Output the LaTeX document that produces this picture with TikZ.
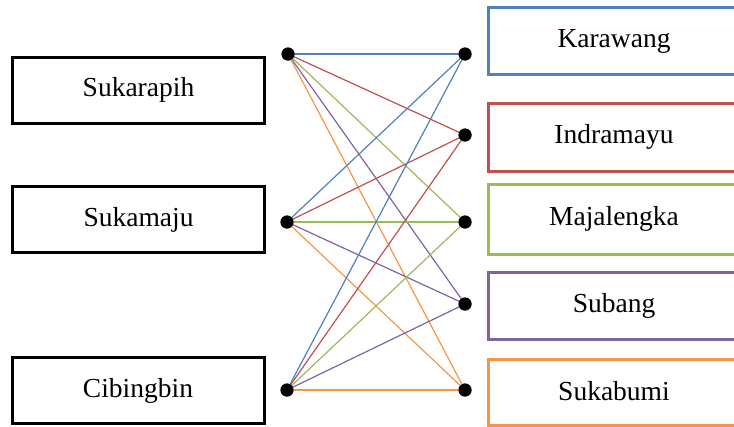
\documentclass[tikz,border=0pt]{standalone}
\usepackage{fontspec}
\setmainfont{Liberation Serif}
\definecolor{cblue}{RGB}{79,129,189}
\definecolor{cred}{RGB}{192,80,77}
\definecolor{cgreen}{RGB}{155,187,89}
\definecolor{cpurple}{RGB}{128,100,162}
\definecolor{corange}{RGB}{247,150,70}
\begin{document}
\begin{tikzpicture}[x=1pt,y=-1pt,
  box/.style={draw, line width=3pt, minimum height=66pt, inner sep=0pt, font=\fontsize{27.5}{31}\selectfont},
  dot/.style={circle, fill=black, inner sep=0pt, minimum size=13pt},
  link/.style={line width=1.2pt}]
\useasboundingbox (0,0) rectangle (734,426);
\begin{scope}
\clip (0,0) rectangle (734,426);
% left boxes
\node[box, minimum width=252pt] (sr) at (138.5,90) {\raisebox{2pt}{Sukarapih}};
\node[box, minimum width=252pt] (sm) at (138.5,219.5) {\raisebox{2pt}{Sukamaju}};
\node[box, minimum width=252pt] (cb) at (138,390.5) {\raisebox{2pt}{Cibingbin}};
% right boxes
\node[box, draw=cblue, minimum width=252pt, minimum height=67pt] (kw) at (614,41) {\raisebox{2pt}{Karawang}};
\node[box, draw=cred, minimum width=252pt, minimum height=68pt] (im) at (614,137) {\raisebox{2pt}{Indramayu}};
\node[box, draw=cgreen, minimum width=252pt, minimum height=70pt] (mj) at (614,219) {\raisebox{2pt}{Majalengka}};
\node[box, draw=cpurple, minimum width=252pt, minimum height=67pt] (sb) at (614,306) {\raisebox{2pt}{Subang}};
\node[box, draw=corange, minimum width=252pt, minimum height=66pt] (sk) at (614,392) {\raisebox{2pt}{Sukabumi}};
\end{scope}
% dots
\node[dot] (l1) at (288,54) {};
\node[dot] (l2) at (287,222) {};
\node[dot] (l3) at (287,390) {};
\node[dot] (r1) at (465,54) {};
\node[dot] (r2) at (465,135) {};
\node[dot] (r3) at (465,222) {};
\node[dot] (r4) at (465,304) {};
\node[dot] (r5) at (465,390) {};
% links
\foreach \l in {l1,l2,l3}{
  \draw[link, cblue] (\l.center) -- (r1.center);
  \draw[link, cred] (\l.center) -- (r2.center);
  \draw[link, cgreen] (\l.center) -- (r3.center);
  \draw[link, cpurple] (\l.center) -- (r4.center);
  \draw[link, corange] (\l.center) -- (r5.center);
}
% dots on top of the links
\foreach \d in {l1,l2,l3,r1,r2,r3,r4,r5}{
  \fill (\d.center) circle (6.5pt);
}
\end{tikzpicture}
\end{document}
